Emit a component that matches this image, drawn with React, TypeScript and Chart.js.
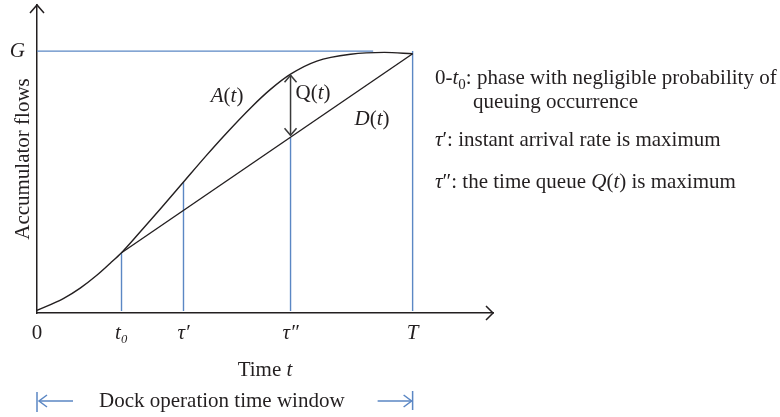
import React, { useEffect, useRef } from 'react';
import { Chart, registerables } from 'chart.js';

Chart.register(...registerables);

// ---------- data ----------
const timeTicks = [0, 2.25, 3.9, 6.75, 10];
const timeTickLabels = ['0', 't₀', 'τ′', 'τ″', 'T'];
const flowTicks = [10];
const flowTickLabels = ['G'];

const arrivalTimes = [0, 0.7, 1.15, 1.6, 1.95, 2.25, 2.75, 3.3, 3.9, 4.5, 5.0, 5.7, 6.2, 6.75, 7.45, 8.35, 9.25, 10];
const arrivalFlows = [0.1, 0.55, 0.95, 1.45, 1.9, 2.3, 3.1, 4.0, 5.0, 6.0, 6.8, 7.85, 8.52, 9.12, 9.62, 9.88, 9.95, 9.9];

const departureTimes = [2.25, 10];
const departureFlows = [2.3, 9.9];

const capacityTimes = [0, 8.95];
const capacityFlows = [10, 10];

const markerTimes = [2.25, 3.9, 6.75, 10];
const markerTops = [2.3, 5.0, 6.71, 10];
const markerBottom = 0.08;

const queueTime = 6.75;
const queueTop = 9.12;
const queueBottom = 6.71;

const windowStart = 0;
const windowEnd = 10;

const xMax = 12.14;
const yMax = 11.76;

// ---------- styles ----------
const FONT = '"Liberation Serif", "Times New Roman", serif';
const INK = '#231f20';
const BLUE = '#5b87c4';
const SIZE = 21;

type Seg = { t: string; i?: boolean; sub?: boolean };

const curveLabels: { x: number; y: number; segs: Seg[] }[] = [
  { x: 5.06, y: 8.28, segs: [{ t: 'A', i: true }, { t: '(' }, { t: 't', i: true }, { t: ')' }] },
  { x: 7.35, y: 8.4, segs: [{ t: 'Q' }, { t: '(' }, { t: 't', i: true }, { t: ')' }] },
  { x: 8.92, y: 7.37, segs: [{ t: 'D', i: true }, { t: '(' }, { t: 't', i: true }, { t: ')' }] },
];

const legendRows: { x: number; y: number; segs: Seg[] }[] = [
  { x: 435, y: 84, segs: [{ t: '0-' }, { t: 't', i: true }, { t: '0', sub: true }, { t: ': phase with negligible probability of' }] },
  { x: 473, y: 108, segs: [{ t: 'queuing occurrence' }] },
  { x: 435, y: 146, segs: [{ t: 'τ', i: true }, { t: '′' }, { t: ': instant arrival rate is maximum' }] },
  { x: 435, y: 188, segs: [{ t: 'τ', i: true }, { t: '″' }, { t: ': the time queue ' }, { t: 'Q', i: true }, { t: '(' }, { t: 't', i: true }, { t: ')' }, { t: ' is maximum' }] },
];

function fontFor(s: Seg, size: number) {
  return `${s.i ? 'italic ' : ''}${s.sub ? Math.round(size * 0.72) : size}px ${FONT}`;
}

function drawRich(ctx: CanvasRenderingContext2D, segs: Seg[], x: number, y: number, size: number, align: 'left' | 'center', baseline: 'alphabetic' | 'middle' = 'alphabetic') {
  ctx.save();
  ctx.textBaseline = baseline;
  ctx.textAlign = 'left';
  ctx.fillStyle = INK;
  let total = 0;
  const widths = segs.map((s) => {
    ctx.font = fontFor(s, size);
    const w = ctx.measureText(s.t).width;
    total += w;
    return w;
  });
  let cx = align === 'center' ? x - total / 2 : x;
  segs.forEach((s, k) => {
    ctx.font = fontFor(s, size);
    ctx.fillText(s.t, cx, s.sub ? y + size * 0.22 : y);
    cx += widths[k];
  });
  ctx.restore();
}

function chevron(ctx: CanvasRenderingContext2D, tx: number, ty: number, dx: number, dy: number, len: number, half: number) {
  const bx = tx - dx * len;
  const by = ty - dy * len;
  const px = -dy;
  const py = dx;
  ctx.beginPath();
  ctx.moveTo(bx + px * half, by + py * half);
  ctx.lineTo(tx, ty);
  ctx.lineTo(bx - px * half, by - py * half);
  ctx.stroke();
}

const decorPlugin = {
  id: 'decor',
  afterDraw(chart: any) {
    const { ctx, chartArea, scales } = chart;
    const xs = scales.x;
    const ys = scales.y;
    ctx.save();
    ctx.lineCap = 'butt';
    ctx.lineJoin = 'miter';

    // axis arrow heads
    ctx.strokeStyle = INK;
    ctx.lineWidth = 1.5;
    chevron(ctx, chartArea.left, chartArea.top, 0, -1, 8, 7);
    chevron(ctx, chartArea.right, chartArea.bottom, 1, 0, 7, 7);

    // queue arrow
    const qx = xs.getPixelForValue(queueTime);
    const qt = ys.getPixelForValue(queueTop) + 1;
    const qb = ys.getPixelForValue(queueBottom) - 2;
    ctx.strokeStyle = '#3a3a3a';
    ctx.lineWidth = 1.5;
    ctx.beginPath();
    ctx.moveTo(qx, qt);
    ctx.lineTo(qx, qb);
    ctx.stroke();
    chevron(ctx, qx, qt, 0, -1, 7, 6);
    chevron(ctx, qx, qb, 0, 1, 7, 6);

    // curve labels
    curveLabels.forEach((l) => {
      drawRich(ctx, l.segs, xs.getPixelForValue(l.x), ys.getPixelForValue(l.y), SIZE, 'center', 'middle');
    });

    // legend text
    legendRows.forEach((r) => drawRich(ctx, r.segs, r.x, r.y, SIZE, 'left'));

    // x axis title
    const midX = (xs.left + xs.right) / 2;
    drawRich(ctx, [{ t: 'Time ' }, { t: 't', i: true }], midX, 376, SIZE, 'center');

    // dock operation window
    const wl = xs.getPixelForValue(windowStart);
    const wr = xs.getPixelForValue(windowEnd);
    const wy = 401;
    ctx.strokeStyle = BLUE;
    ctx.lineWidth = 1.5;
    ctx.beginPath();
    ctx.moveTo(wl, wy - 9);
    ctx.lineTo(wl, wy + 11);
    ctx.moveTo(wl + 2, wy);
    ctx.lineTo(wl + 36, wy);
    ctx.moveTo(wr, wy - 10);
    ctx.lineTo(wr, wy + 9);
    ctx.moveTo(wr - 1, wy);
    ctx.lineTo(wr - 35, wy);
    ctx.stroke();
    chevron(ctx, wl + 2, wy, -1, 0, 8, 6);
    chevron(ctx, wr - 1, wy, 1, 0, 8, 6);
    drawRich(ctx, [{ t: 'Dock operation time window' }], (wl + wr) / 2 - 3, wy + 6, SIZE, 'center');

    ctx.restore();
  },
};

function pts(xsArr: number[], ysArr: number[]) {
  return xsArr.map((x, k) => ({ x, y: ysArr[k] }));
}

export default function App() {
  const ref = useRef<HTMLCanvasElement | null>(null);

  useEffect(() => {
    if (!ref.current) return;
    const lineDs = (data: { x: number; y: number }[], color: string, width: number, smooth = false) => ({
      data,
      showLine: true,
      borderColor: color,
      backgroundColor: color,
      borderWidth: width,
      pointRadius: 0,
      pointHoverRadius: 0,
      tension: smooth ? 0.4 : 0,
      cubicInterpolationMode: smooth ? 'monotone' : 'default',
      fill: false,
    });

    const datasets: any[] = [
      lineDs(pts(arrivalTimes, arrivalFlows), INK, 1.4, true),
      lineDs(pts(departureTimes, departureFlows), INK, 1.4),
      lineDs(pts(capacityTimes, capacityFlows), BLUE, 1.4),
      ...markerTimes.map((t, k) => lineDs([{ x: t, y: markerTops[k] }, { x: t, y: markerBottom }], BLUE, 1.4)),
    ];

    const chart = new Chart(ref.current, {
      type: 'scatter',
      data: { datasets },
      plugins: [decorPlugin],
      options: {
        animation: false,
        responsive: false,
        events: [],
        layout: { padding: { top: 5, right: 287, left: 0, bottom: 0 } },
        plugins: { legend: { display: false }, tooltip: { enabled: false }, title: { display: false } },
        scales: {
          x: {
            type: 'linear',
            min: 0,
            max: xMax,
            afterBuildTicks: (s: any) => {
              s.ticks = timeTicks.map((v) => ({ value: v }));
            },
            afterFit: (s: any) => {
              s.height = 104;
              s.paddingLeft = 0;
              s.paddingRight = 0;
            },
            grid: { display: false, drawTicks: false },
            border: { display: true, color: INK, width: 1.5 },
            ticks: {
              autoSkip: false,
              maxRotation: 0,
              minRotation: 0,
              padding: 8,
              color: INK,
              callback: (_v: any, i: number) => timeTickLabels[i],
              font: (c: any) => ({ family: FONT, size: SIZE, style: c.index === 0 ? 'normal' : 'italic' }),
            },
          },
          y: {
            type: 'linear',
            min: 0,
            max: yMax,
            afterBuildTicks: (s: any) => {
              s.ticks = flowTicks.map((v) => ({ value: v }));
            },
            afterFit: (s: any) => {
              s.width = 37;
              s.paddingTop = 0;
              s.paddingBottom = 0;
            },
            grid: { display: false, drawTicks: false },
            border: { display: true, color: INK, width: 1.5 },
            ticks: {
              autoSkip: false,
              padding: 12,
              color: INK,
              callback: (_v: any, i: number) => flowTickLabels[i],
              font: { family: FONT, size: SIZE, style: 'italic' },
            },
            title: {
              display: true,
              text: 'Accumulator flows',
              color: INK,
              font: { family: FONT, size: SIZE },
              padding: { top: 11, bottom: 0 },
            },
          },
        },
      } as any,
    });
    return () => chart.destroy();
  }, []);

  return (
    <div style={{ position: 'absolute', left: 0, top: 0, width: 780, height: 417, background: '#fff' }}>
      <canvas ref={ref} width={780} height={417} style={{ display: 'block', width: 780, height: 417 }} />
    </div>
  );
}
